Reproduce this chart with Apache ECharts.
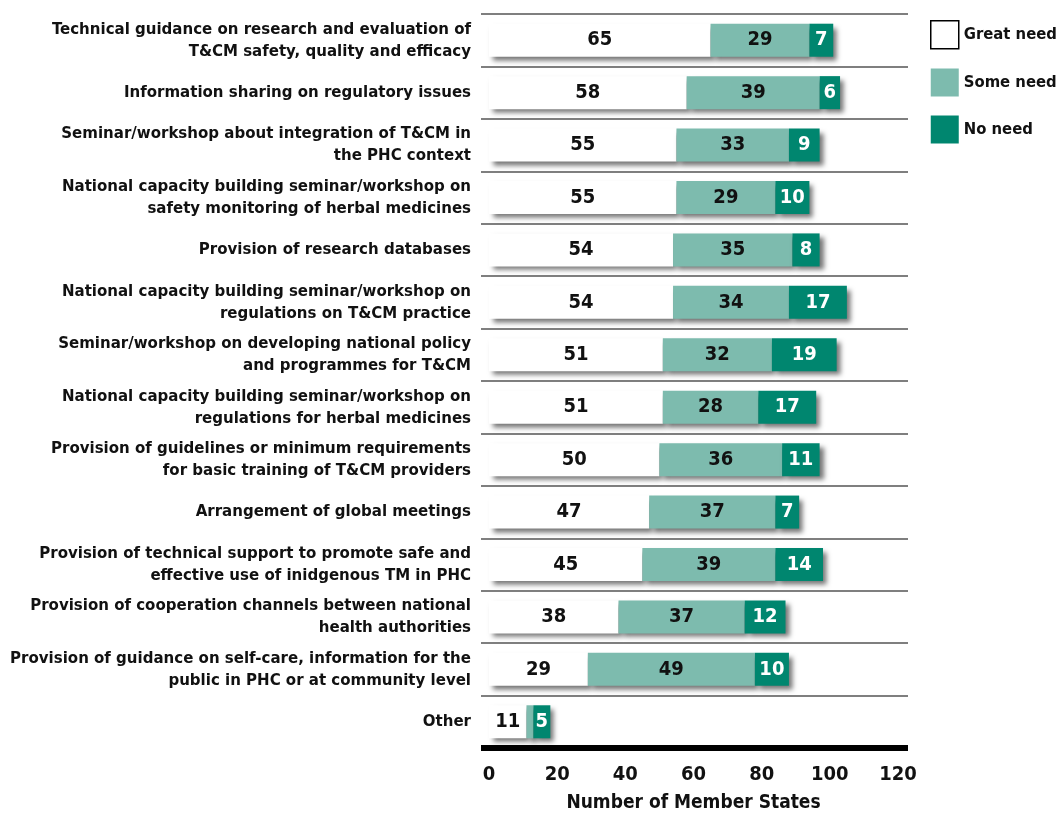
<!DOCTYPE html>
<html>
<head>
<meta charset="utf-8">
<script src="https://cdn.jsdelivr.net/npm/echarts@6/dist/echarts.min.js"></script>
<style>
  html, body { margin: 0; padding: 0; background: #fff; }
  #chart { width: 1062px; height: 813px; }
</style>
</head>
<body>
<div id="chart"></div>
<script>
// categories, top to bottom
const categories = [
  'Technical guidance on research and evaluation of\nT&CM safety, quality and efficacy',
  'Information sharing on regulatory issues',
  'Seminar/workshop about integration of T&CM in\nthe PHC context',
  'National capacity building seminar/workshop on\nsafety monitoring of herbal medicines',
  'Provision of research databases',
  'National capacity building seminar/workshop on\nregulations on T&CM practice',
  'Seminar/workshop on developing national policy\nand programmes for T&CM',
  'National capacity building seminar/workshop on\nregulations for herbal medicines',
  'Provision of guidelines or minimum requirements\nfor basic training of T&CM providers',
  'Arrangement of global meetings',
  'Provision of technical support to promote safe and\neffective use of inidgenous TM in PHC',
  'Provision of cooperation channels between national\nhealth authorities',
  'Provision of guidance on self-care, information for the\npublic in PHC or at community level',
  'Other'
]
const greatNeed = [65, 58, 55, 55, 54, 54, 51, 51, 50, 47, 45, 38, 29, 11]
const someNeed  = [29, 39, 33, 29, 35, 34, 32, 28, 36, 37, 39, 37, 49, 2]
const noNeed    = [7, 6, 9, 10, 8, 17, 19, 17, 11, 7, 14, 12, 10, 5]
const xTicks = [0, 20, 40, 60, 80, 100, 120]

const FONT = "'Liberation Sans Narrow', 'DejaVu Sans Condensed', sans-serif"
const chart = echarts.init(document.getElementById('chart'))

const shadow = {
  shadowColor: 'rgba(0,0,0,0.55)',
  shadowBlur: 5,
  shadowOffsetX: 4,
  shadowOffsetY: 4
}
const noShadow = { shadowBlur: 0, shadowOffsetX: 0, shadowOffsetY: 0 }

function barSeries(name, data, color, labelColor) {
  return {
    name: name,
    type: 'bar',
    stack: 'total',
    xAxisIndex: 0,
    yAxisIndex: 0,
    barWidth: '63%',
    data: data,
    itemStyle: Object.assign({ color: color }, shadow),
    label: {
      show: true,
      position: 'inside',
      color: labelColor,
      fontFamily: FONT,
      fontWeight: 'bold',
      fontSize: 20,
      formatter: p => (p.value < 4 ? '' : p.value)
    }
  }
}

const option = {
  animation: false,
  textStyle: { fontFamily: FONT },
  legend: {
    orient: 'vertical',
    left: 925,
    top: 15,
    itemWidth: 28,
    itemHeight: 28,
    itemGap: 19,
    icon: 'rect',
    textStyle: { fontFamily: FONT, fontWeight: 'bold', fontSize: 16.5, color: '#111' },
    data: [
      { name: 'Great need', itemStyle: Object.assign({ color: '#fff', borderColor: '#000', borderWidth: 1.5 }, noShadow) },
      { name: 'Some need', itemStyle: noShadow },
      { name: 'No need', itemStyle: noShadow }
    ]
  },
  grid: [
    { left: 489, right: 164, top: 14, bottom: 65, outerBoundsMode: 'none' },
    { left: 481, right: 154, top: 14, bottom: 65, outerBoundsMode: 'none' }
  ],
  xAxis: [
    {
      gridIndex: 0,
      type: 'value',
      min: xTicks[0],
      max: xTicks[xTicks.length - 1],
      interval: 20,
      axisLine: { show: false },
      axisTick: { show: false },
      splitLine: { show: false },
      axisLabel: { fontFamily: FONT, fontWeight: 'bold', fontSize: 20, color: '#111', margin: 17 },
      name: 'Number of Member States',
      nameLocation: 'middle',
      nameGap: 46,
      nameTextStyle: { fontFamily: FONT, fontWeight: 'bold', fontSize: 19, color: '#111' }
    },
    {
      gridIndex: 1,
      type: 'value',
      min: 0,
      max: 1,
      axisLine: { show: true, lineStyle: { color: '#000', width: 6, cap: 'butt' } },
      axisTick: { show: false },
      axisLabel: { show: false },
      splitLine: { show: false }
    }
  ],
  yAxis: [
    {
      gridIndex: 0,
      type: 'category',
      inverse: true,
      data: categories,
      axisLine: { show: false },
      axisTick: { show: false },
      splitLine: { show: false },
      axisLabel: {
        interval: 0,
        margin: 18,
        fontFamily: FONT,
        fontWeight: 'bold',
        fontSize: 16.7,
        lineHeight: 22,
        color: '#111'
      }
    },
    {
      gridIndex: 1,
      type: 'category',
      inverse: true,
      data: categories,
      axisLine: { show: false },
      axisTick: { show: false },
      axisLabel: { show: false },
      splitLine: { show: true, interval: 0, lineStyle: { color: '#555', width: 1.5 } }
    }
  ],
  series: [
    barSeries('Great need', greatNeed, '#ffffff', '#111'),
    barSeries('Some need', someNeed, '#7dbbae', '#111'),
    barSeries('No need', noNeed, '#00866f', '#fff')
  ]
}

chart.setOption(option)
</script>
</body>
</html>
